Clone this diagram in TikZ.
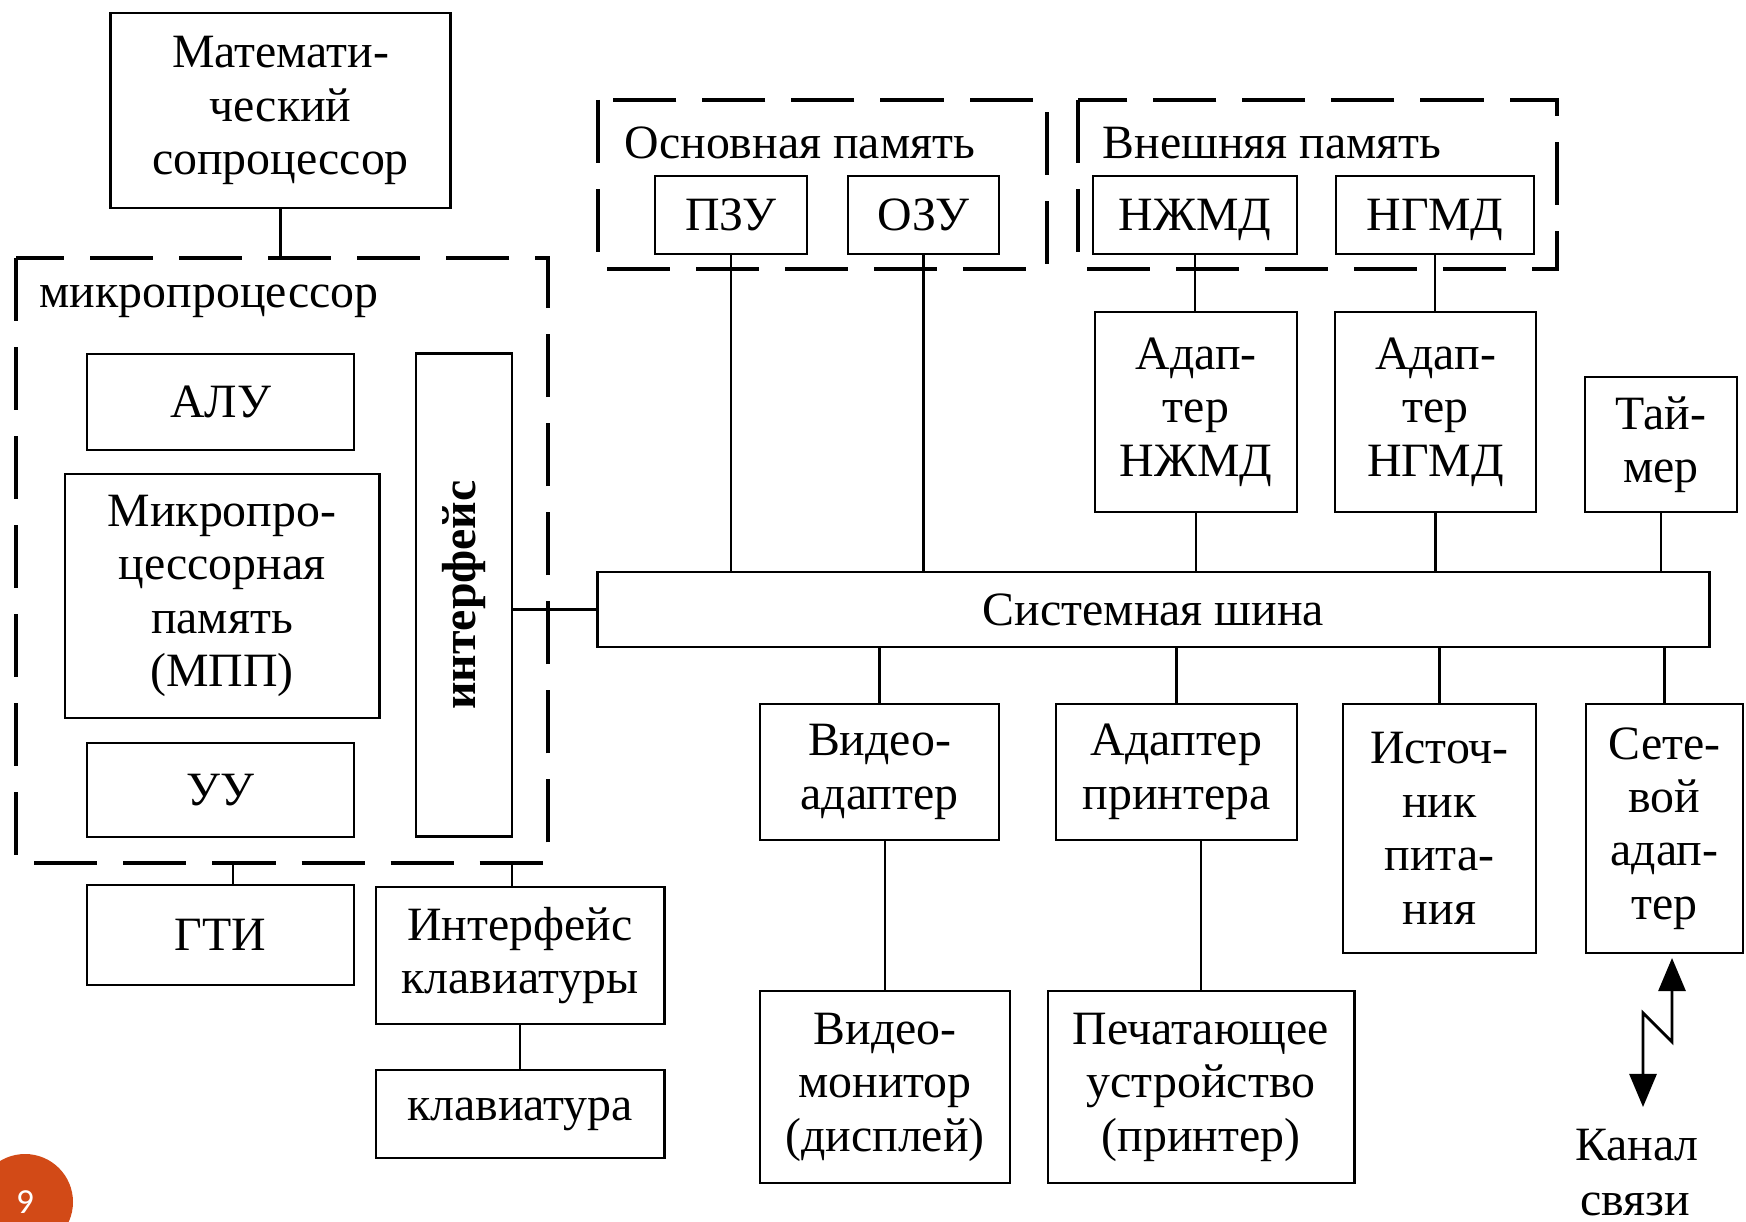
\documentclass[tikz,border=0pt]{standalone}
\usepackage{fontspec}
\setmainfont{Liberation Serif}
\newfontfamily\numfont{Carlito}
\usetikzlibrary{arrows.meta}
\definecolor{slideorange}{HTML}{D24A17}
\tikzset{
  blk/.style = {draw, line width=0.8pt, inner sep=0pt, align=center,
                font=\fontsize{13.6}{15.2}\selectfont},
  grp/.style = {draw, line width=0.9pt, dash pattern=on 0.63cm off 0.26cm},
  grplabel/.style = {anchor=west, inner sep=0pt, font=\fontsize{13.6}{15.2}\selectfont},
  wire/.style = {line width=0.8pt},
}

\begin{document}
\begin{tikzpicture}[x=0.01cm, y=-0.01cm]
	\useasboundingbox (0,0) rectangle (1746,1222);

	% groups
	\draw[grp] (16,258) rectangle (548,863);
	\draw[grp] (598,100) rectangle (1047,269);
	\draw[grp] (1078,100) rectangle (1557,269);
	\node[grplabel] (mplab) at (39,301) {микропроцессор};
	\node[grplabel] (oplab) at (624,143) {Основная память};
	\node[grplabel] (vplab) at (1102,143) {Внешняя память};

	% processor side
	\node[blk, minimum width=3.39cm, minimum height=1.95cm] (copr) at (280.5,110.5) {Математи-\\ческий\\сопроцессор};
	\node[blk, minimum width=2.67cm, minimum height=0.96cm] (alu) at (220.5,402) {АЛУ};
	\node[blk, minimum width=3.14cm, minimum height=2.44cm] (mpp) at (222,596) {Микропро-\\цессорная\\память\\(МПП)};
	\node[blk, minimum width=2.67cm, minimum height=0.94cm] (uu) at (220.5,790) {УУ};
	\node[blk, minimum width=0.96cm, minimum height=4.82cm] (intf) at (464,595) {};
	\node[rotate=90, font=\fontsize{13.6}{15.2}\selectfont\bfseries] (intflab) at (intf.center) {интерфейс};
	\node[blk, minimum width=2.67cm, minimum height=1.00cm] (gti) at (220.5,935) {ГТИ};
	\node[blk, minimum width=2.88cm, minimum height=1.37cm] (kbif) at (520,955.5) {Интерфейс\\клавиатуры};
	\node[blk, minimum width=2.88cm, minimum height=0.88cm] (kb) at (520,1114) {клавиатура};

	% bus
	\node[blk, minimum width=11.11cm, minimum height=0.75cm] (bus) at (1153.5,609.5) {Системная шина};

	% memory
	\node[blk, minimum width=1.52cm, minimum height=0.78cm] (pzu) at (731,215) {ПЗУ};
	\node[blk, minimum width=1.51cm, minimum height=0.78cm] (ozu) at (923.5,215) {ОЗУ};
	\node[blk, minimum width=2.04cm, minimum height=0.78cm, text depth=0pt] (hdd) at (1195,215) {НЖМД};
	\node[blk, minimum width=1.98cm, minimum height=0.78cm, text depth=0pt] (fdd) at (1435,215) {НГМД};
	\node[blk, minimum width=2.02cm, minimum height=2.00cm] (hdda) at (1196,412) {Адап-\\тер\\НЖМД};
	\node[blk, minimum width=2.01cm, minimum height=2.00cm] (fdda) at (1435.5,412) {Адап-\\тер\\НГМД};
	\node[blk, minimum width=1.52cm, minimum height=1.35cm] (timer) at (1661,444.5) {Тай-\\мер};

	% below the bus
	\node[blk, minimum width=2.39cm, minimum height=1.36cm] (vida) at (879.5,772) {Видео-\\адаптер};
	\node[blk, minimum width=2.41cm, minimum height=1.36cm] (prna) at (1176.5,772) {Адаптер\\принтера};
	\node[blk, minimum width=1.93cm, minimum height=2.49cm] (psu) at (1439.5,828.5) {Источ-\\ник\\пита-\\ния};
	\node[blk, minimum width=1.57cm, minimum height=2.49cm] (net) at (1664.5,828.5) {Сете-\\вой\\адап-\\тер};
	\node[blk, minimum width=2.50cm, minimum height=1.92cm] (mon) at (885,1087) {Видео-\\монитор\\(дисплей)};
	\node[blk, minimum width=3.06cm, minimum height=1.92cm] (prn) at (1201,1087) {Печатающее\\устройство\\(принтер)};
	\node[anchor=base, inner sep=0pt, font=\fontsize{13.6}{15.2}\selectfont] (chan1) at (1637,1160) {Канал};
	\node[anchor=base, inner sep=0pt, font=\fontsize{13.6}{15.2}\selectfont] (chan2) at (1635,1215) {связи};

	% connections
	\draw[wire] (copr.south) -- (280.5,258);
	\draw[wire] (bus.west) -- (bus.west -| intf.east);
	\draw[wire] (pzu.south) -- (pzu.south |- bus.north);
	\draw[wire] (ozu.south) -- (ozu.south |- bus.north);
	\draw[wire] (hdd.south) -- (hdd.south |- hdda.north);
	\draw[wire] (fdd.south) -- (fdd.south |- fdda.north);
	\draw[wire] (hdda.south) -- (hdda.south |- bus.north);
	\draw[wire] (fdda.south) -- (fdda.south |- bus.north);
	\draw[wire] (timer.south) -- (timer.south |- bus.north);
	\draw[wire] (vida.north) -- (vida.north |- bus.south);
	\draw[wire] (prna.north) -- (prna.north |- bus.south);
	\draw[wire] (psu.north) -- (psu.north |- bus.south);
	\draw[wire] (net.north) -- (net.north |- bus.south);
	\draw[wire] (mon.north) -- (mon.north |- vida.south);
	\draw[wire] (prn.north) -- (prn.north |- prna.south);
	\draw[wire] (233,863) -- (gti.north -| 233,0);
	\draw[wire] (512,863) -- (kbif.north -| 512,0);
	\draw[wire] (kbif.south) -- (kb.north);

	% radio link
	\coordinate (linktop) at (1672,958);
	\coordinate (linkbot) at (1643,1107);
	\draw[wire, {Triangle[length=0.33cm, width=0.27cm]}-{Triangle[length=0.33cm, width=0.27cm]}]
		(linktop) -- (1672,1042) -- (1643,1013) -- (linkbot);

	% slide number
	\fill[slideorange] (25,1202) circle (48);
	\node[text=white, font=\numfont\fontsize{10}{12}\selectfont] (pgnum) at (25,1202) {9};
\end{tikzpicture}
\end{document}
